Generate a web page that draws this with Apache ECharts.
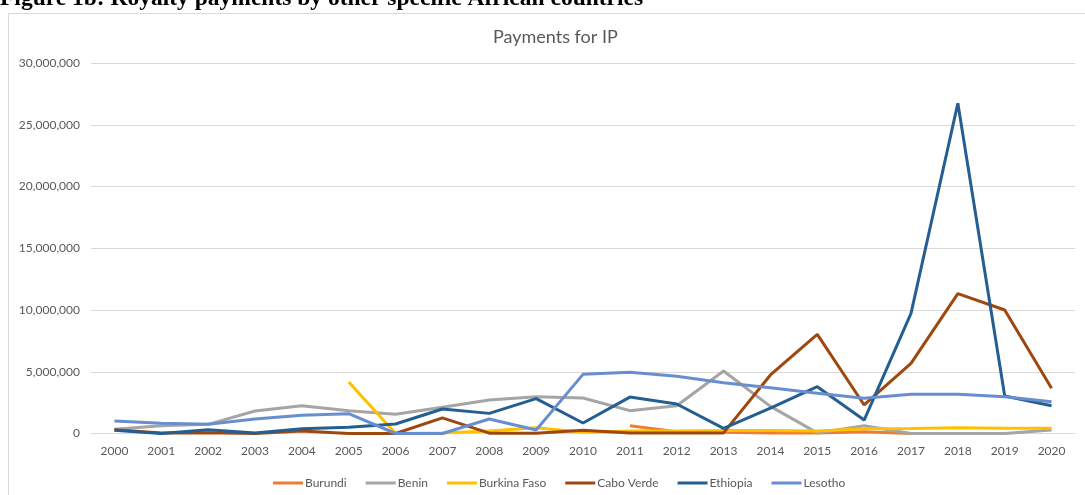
<!DOCTYPE html>
<html><head><meta charset="utf-8">
<script src="https://cdn.jsdelivr.net/npm/echarts@6/dist/echarts.min.js"></script>
<style>html,body{margin:0;padding:0;background:#fff}#c{width:1085px;height:495px}</style>
</head><body><div id="c"></div>
<script>
const years = ['2000','2001','2002','2003','2004','2005','2006','2007','2008','2009','2010','2011','2012','2013','2014','2015','2016','2017','2018','2019','2020'];
const yTicks = [0, 5000000, 10000000, 15000000, 20000000, 25000000, 30000000];
const burundi = [null,null,null,null,null,null,null,null,null,null,null,620000,150000,100000,50000,50000,150000,0,null,null,null];
const benin = [340000,630000,740000,1820000,2250000,1850000,1550000,2120000,2710000,2980000,2870000,1850000,2250000,5060000,2200000,50000,630000,0,0,0,280000];
const burkina = [null,null,null,null,null,4170000,0,50000,200000,470000,100000,200000,200000,250000,250000,200000,390000,400000,470000,420000,420000];
const caboVerde = [300000,50000,70000,0,200000,0,0,1260000,30000,20000,260000,50000,50000,50000,4740000,8030000,2310000,5680000,11320000,10000000,3660000];
const ethiopia = [260000,0,310000,40000,390000,500000,770000,1980000,1630000,2820000,850000,2950000,2390000,420000,2060000,3790000,1090000,9730000,26740000,3040000,2250000];
const lesotho = [1010000,820000,740000,1170000,1470000,1600000,0,0,1170000,280000,4790000,4950000,4630000,4110000,3710000,3250000,2850000,3170000,3170000,2980000,2580000];

const names = ['Burundi','Benin','Burkina Faso','Cabo Verde','Ethiopia','Lesotho'];
const colors = ['#ED7D31','#A5A5A5','#FFC000','#9E480E','#255E91','#698ED0'];
const dataSets = [burundi, benin, burkina, caboVerde, ethiopia, lesotho];
const font = 'Lato, "Open Sans", sans-serif';

const chart = echarts.init(document.getElementById('c'), null, {renderer:'canvas'});
chart.setOption({
  animation:false,
  backgroundColor:'#fff',
  graphic:[
    {type:'rect', shape:{x:8.5,y:13.5,width:1090,height:490}, style:{fill:'none', stroke:'#d9d9d9', lineWidth:1}},
    {type:'text', x:0, y:11, style:{text:'Figure 1b: Royalty payments by other specific African countries', font:'bold 23.5px "Liberation Serif", "Times New Roman", serif', fill:'#000', textVerticalAlign:'bottom', verticalAlign:'bottom'}}
  ],
  title:{text:'Payments for IP', left:488, top:23, textStyle:{fontFamily:font, fontSize:18, fontWeight:'normal', color:'#595959'}},
  legend:{top:472, left:268, itemWidth:30, itemHeight:3, itemGap:19, icon:'rect',
    textStyle:{fontFamily:font, fontSize:12, color:'#595959', padding:[0,0,0,-3]},
    data:names},
  grid:{left:91, right:10, top:63, bottom:61.5, containLabel:false},
  xAxis:{type:'category', data:years, boundaryGap:true,
    axisLine:{lineStyle:{color:'#d9d9d9'}}, axisTick:{show:false},
    axisLabel:{fontFamily:font, fontSize:12, color:'#595959', margin:12}},
  yAxis:{type:'value', min:yTicks[0], max:yTicks[yTicks.length-1], interval:yTicks[1]-yTicks[0],
    axisLine:{show:false}, axisTick:{show:false},
    splitLine:{lineStyle:{color:'#d9d9d9', width:1}},
    axisLabel:{fontFamily:font, fontSize:12, color:'#595959', margin:11,
      formatter:v=>v.toLocaleString('en-US')}},
  series: names.map((n,i)=>({name:n, type:'line', data:dataSets[i], symbol:'none', connectNulls:false,
    lineStyle:{color:colors[i], width:3}, itemStyle:{color:colors[i]}, z:2+i}))
});
</script></body></html>
